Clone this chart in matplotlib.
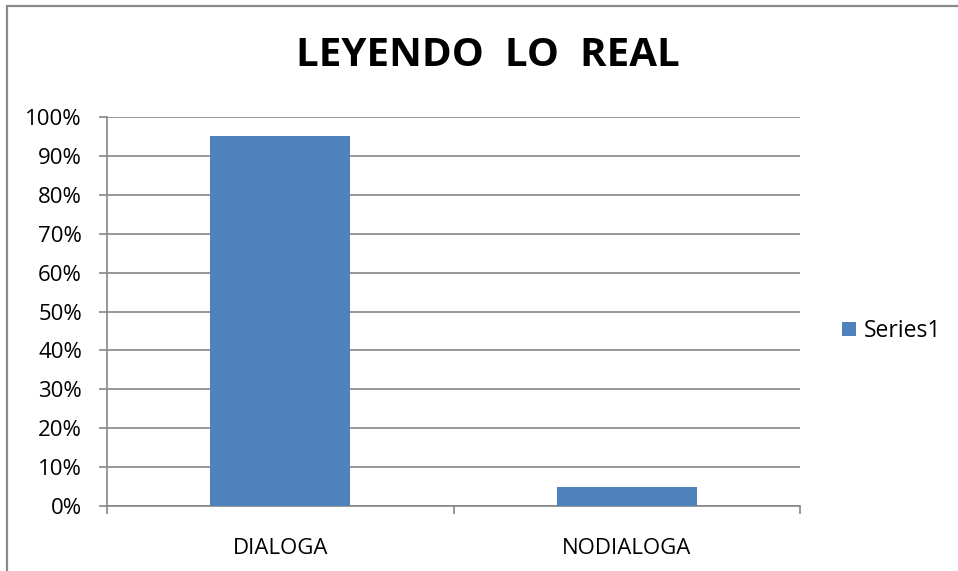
import matplotlib
matplotlib.use("Agg")
import matplotlib.pyplot as plt
from matplotlib.patches import Rectangle
from matplotlib.ticker import PercentFormatter

categories = ["DIALOGA", "NODIALOGA"]
values = [0.95, 0.05]
series_name = "Series1"
title = "LEYENDO  LO  REAL"
yticks = [0, 0.1, 0.2, 0.3, 0.4, 0.5, 0.6, 0.7, 0.8, 0.9, 1.0]

plt.rcParams['font.family'] = ['Open Sans', 'DejaVu Sans']

W, H = 958, 571
fig = plt.figure(figsize=(W / 100, H / 100), dpi=100)
fig.patch.set_facecolor('white')

# outer chart border (right/bottom lie outside the image)
fig.patches.append(Rectangle((7 / W, -0.05), 1.1, 1 - 6 / H + 0.05,
                             transform=fig.transFigure, fill=False,
                             edgecolor='#898989', linewidth=1.6))

ax = fig.add_axes([107 / W, 65 / H, (800 - 107) / W, (506 - 117) / H])
grid_c = '#868686'
x = list(range(len(categories)))
ax.bar(x, values, width=0.405, color='#4F81BD', label=series_name, zorder=3)

ax.set_xlim(-0.5, len(categories) - 0.5)
ax.set_ylim(0, 1.0)
ax.set_yticks(yticks)
ax.yaxis.set_major_formatter(PercentFormatter(1.0, decimals=0))
ax.grid(axis='y', color=grid_c, linewidth=1.2, zorder=0)
ax.set_axisbelow(True)

for s in ['top', 'right']:
    ax.spines[s].set_visible(False)
for s in ['left', 'bottom']:
    ax.spines[s].set_color(grid_c)
    ax.spines[s].set_linewidth(1.2)

ax.set_xticks([-0.5, 0.5, 1.5])
ax.set_xticklabels([])
ax.set_xticks(x, minor=True)
ax.set_xticklabels(categories, minor=True, fontsize=16)
ax.tick_params(axis='x', which='minor', length=0, pad=23)
ax.tick_params(axis='x', which='major', length=6, width=1.2, color=grid_c)
ax.tick_params(axis='y', length=6, width=1.2, color=grid_c, labelsize=16, pad=12)

fig.text(488 / W, 1 - 56 / H, title, ha='center', va='center',
         fontsize=29, fontweight='bold')

leg = ax.legend(loc='center left', bbox_to_anchor=(833 / W, 1 - 331 / H),
                bbox_transform=fig.transFigure, frameon=False, fontsize=16.5,
                handlelength=0.6, handleheight=0.6, handletextpad=0.35,
                borderaxespad=0)

fig.savefig('out.png', dpi=100, facecolor='white')
